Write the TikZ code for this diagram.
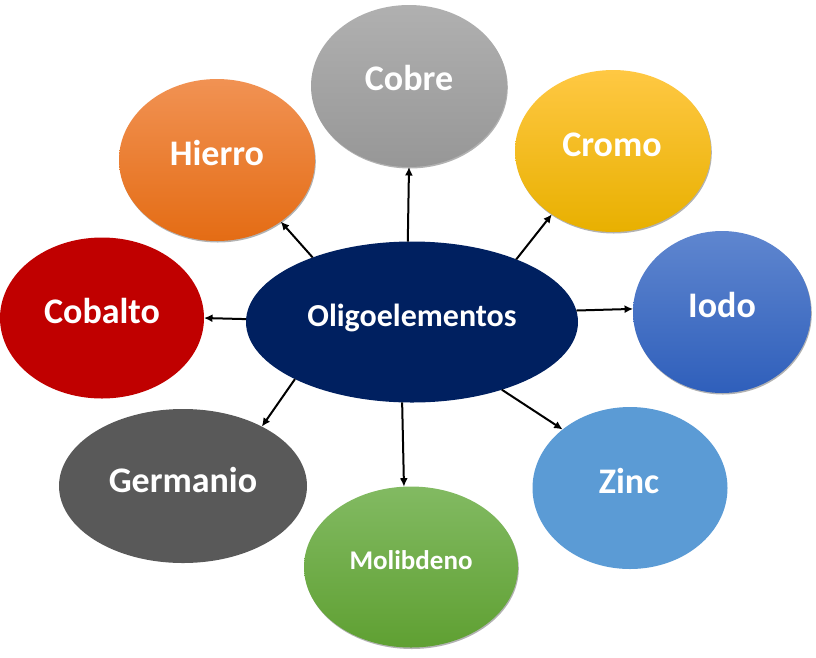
\documentclass[tikz,border=0pt]{standalone}
\usepackage{fontspec}
\setmainfont{Carlito}
\usetikzlibrary{shapes.geometric,arrows.meta,shadows}
\definecolor{cobreT}{HTML}{B0B0B0}
\definecolor{cobreB}{HTML}{979797}
\definecolor{hierroT}{HTML}{F19253}
\definecolor{hierroM}{HTML}{F07E2A}
\definecolor{hierroB}{HTML}{E46C14}
\definecolor{cromoT}{HTML}{FFC843}
\definecolor{cromoM}{HTML}{FFC000}
\definecolor{cromoB}{HTML}{E8B000}
\definecolor{iodoT}{HTML}{5F86CF}
\definecolor{iodoB}{HTML}{2F5FBB}
\definecolor{moliT}{HTML}{82BA62}
\definecolor{moliB}{HTML}{5FA032}
\definecolor{cobaltoC}{HTML}{C00000}
\definecolor{germC}{HTML}{595959}
\definecolor{zincC}{HTML}{5B9BD5}
\definecolor{centC}{HTML}{002060}
\begin{document}
\begin{tikzpicture}[x=1pt,y=-1pt,
  elli/.style={ellipse,inner sep=0pt,outer sep=0pt,draw=none},
  gshadow/.style={drop shadow={shadow xshift=0.8pt,shadow yshift=-1.5pt,opacity=0.3,fill=black}},
  lbl/.style={text=white,font=\bfseries\fontsize{36}{40}\selectfont,anchor=base,inner sep=0pt},
  conn/.style={line width=2pt,-{Latex[length=8.5pt,width=8pt]}}]
\useasboundingbox (0,0) rectangle (816,657);
% outer ellipses
\node[elli,minimum width=196pt,minimum height=162pt,gshadow,top color=cobreT,bottom color=cobreB] (cobre) at (409,86) {};
\node[elli,minimum width=196pt,minimum height=162pt,gshadow,top color=hierroT,middle color=hierroM,bottom color=hierroB] (hierro) at (217,160) {};
\node[elli,minimum width=196pt,minimum height=162pt,gshadow,top color=cromoT,middle color=cromoM,bottom color=cromoB] (cromo) at (613,151) {};
\node[elli,minimum width=178pt,minimum height=162pt,gshadow,top color=iodoT,bottom color=iodoB] (iodo) at (722,312) {};
\node[elli,minimum width=204pt,minimum height=161pt,fill=cobaltoC] (cobalto) at (102,318) {};
\node[elli,minimum width=248pt,minimum height=154pt,fill=germC] (germanio) at (183,486) {};
\node[elli,minimum width=214pt,minimum height=161pt,gshadow,top color=moliT,bottom color=moliB] (molibdeno) at (411,567) {};
\node[elli,minimum width=195pt,minimum height=162pt,fill=zincC] (zinc) at (630,488) {};
\node[elli,minimum width=332pt,minimum height=161pt,fill=centC] (centro) at (412,322) {};
% labels
\node[lbl] (cobre-t) at (409,90) {Cobre};
\node[lbl] (hierro-t) at (217,165) {Hierro};
\node[lbl] (cromo-t) at (612,156) {Cromo};
\node[lbl] (iodo-t) at (722,317) {Iodo};
\node[lbl] (cobalto-t) at (102,323) {Cobalto};
\node[lbl] (germanio-t) at (183,492) {Germanio};
\node[lbl,font=\bfseries\fontsize{27}{30}\selectfont] (molibdeno-t) at (411,569) {Molibdeno};
\node[lbl] (zinc-t) at (629,493) {Zinc};
\node[lbl,font=\bfseries\fontsize{32}{36}\selectfont] (centro-t) at (412,326) {Oligoelementos};
% connectors
\draw[conn] (centro.93) -- (cobre.270.5);
\draw[conn] (centro.147.6) -- (hierro.-44.5);
\draw[conn] (centro.31) -- (cromo.226);
\draw[conn] (centro.4.1) -- (iodo.178.6);
\draw[conn] (centro.179) -- (cobalto.0);
\draw[conn] (centro.206.8) -- (germanio.37.9);
\draw[conn] (centro.263.7) -- (molibdeno.95.7);
\draw[conn] (centro.323.8) -- (zinc.139.1);
\end{tikzpicture}
\end{document}
